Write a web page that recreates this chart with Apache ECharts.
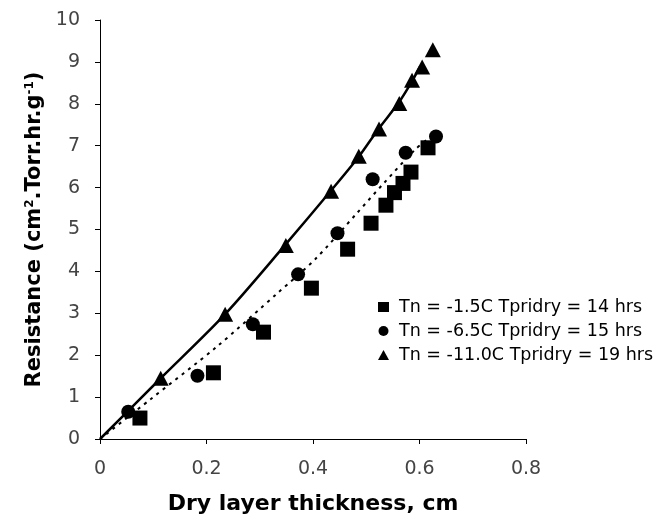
<!DOCTYPE html>
<html>
<head>
<meta charset="utf-8">
<script src="https://cdn.jsdelivr.net/npm/echarts@6/dist/echarts.min.js"></script>
<style>html,body{margin:0;padding:0;background:#fff;}#main{width:668px;height:520px;}</style>
</head>
<body>
<div id="main"></div>
<script>
// Series names
const seriesNames = ['Tn = -1.5C Tpridry = 14 hrs', 'Tn = -6.5C Tpridry = 15 hrs', 'Tn = -11.0C Tpridry = 19 hrs'];
// Squares (Tn = -1.5C)
const sqX = [0.075, 0.213, 0.307, 0.397, 0.465, 0.509, 0.537, 0.553, 0.569, 0.584, 0.616];
const sqY = [0.50, 1.58, 2.55, 3.60, 4.53, 5.15, 5.58, 5.88, 6.10, 6.37, 6.95];
// Circles (Tn = -6.5C)
const ciX = [0.053, 0.183, 0.287, 0.372, 0.446, 0.512, 0.574, 0.631];
const ciY = [0.65, 1.51, 2.74, 3.93, 4.91, 6.20, 6.83, 7.22];
// Triangles (Tn = -11.0C)
const trX = [0.114, 0.235, 0.349, 0.434, 0.486, 0.524, 0.562, 0.586, 0.605, 0.625];
const trY = [1.45, 2.98, 4.62, 5.91, 6.75, 7.40, 8.01, 8.56, 8.88, 9.29];
// Solid trend line
const solidX = [0, 0.114, 0.235, 0.349, 0.432, 0.4855, 0.523, 0.561, 0.586, 0.6015];
const solidY = [0, 1.45, 2.98, 4.65, 5.90, 6.73, 7.40, 8.03, 8.54, 8.90];
// Dotted trend line
const dotX = [0, 0.094, 0.219, 0.335, 0.404, 0.4825, 0.5326, 0.592, 0.620];
const dotY = [0, 0.94, 2.20, 3.50, 4.29, 5.39, 6.10, 6.91, 7.20];
// Axis ticks
const xTicks = [0, 0.2, 0.4, 0.6, 0.8];
const yTicks = [0, 1, 2, 3, 4, 5, 6, 7, 8, 9, 10];

const zip = (xs, ys) => xs.map((x, i) => [x, ys[i]]);

const chart = echarts.init(document.getElementById('main'), null, {renderer: 'canvas'});
const axisCommon = {
  axisLine: {show: true, lineStyle: {color: '#000', width: 1}},
  axisTick: {show: true, inside: false, length: 5, lineStyle: {color: '#000'}},
  splitLine: {show: false},
  axisLabel: {color: '#444', fontFamily: 'DejaVu Sans', fontSize: 19},
  nameTextStyle: {color: '#000', fontFamily: 'DejaVu Sans', fontWeight: 'bold', fontSize: 21}
};
chart.setOption({
  animation: false,
  backgroundColor: '#fff',
  grid: {left: 100, right: 142, top: 20, bottom: 77, containLabel: false},
  xAxis: Object.assign({}, axisCommon, {
    type: 'value', min: xTicks[0], max: xTicks[xTicks.length - 1], interval: 0.2,
    name: 'Dry layer thickness, cm', nameLocation: 'middle', nameGap: 54,
    axisLabel: Object.assign({}, axisCommon.axisLabel, {margin: 21, formatter: v => String(v)}),
    nameTextStyle: Object.assign({}, axisCommon.nameTextStyle, {fontSize: 22})
  }),
  yAxis: Object.assign({}, axisCommon, {
    type: 'value', min: yTicks[0], max: yTicks[yTicks.length - 1], interval: 1,
    name: 'Resistance (cm{sup|2}.Torr.hr.g{sup|-1})', nameLocation: 'middle', nameGap: 54, nameRotate: 90,
    axisLabel: Object.assign({}, axisCommon.axisLabel, {margin: 20}),
    nameTextStyle: Object.assign({}, axisCommon.nameTextStyle, {
      rich: {sup: {fontSize: 12, fontWeight: 'bold', fontFamily: 'DejaVu Sans', color: '#000', verticalAlign: 'top', padding: [0, 0, 10, 0]}}
    })
  }),
  legend: {
    orient: 'vertical', left: 373, top: 293, itemGap: 6, itemWidth: 11, itemHeight: 10,
    textStyle: {color: '#000', fontFamily: 'DejaVu Sans', fontSize: 17.5, padding: [0, 0, 0, 5]},
    data: [
      {name: seriesNames[0], icon: 'rect'},
      {name: seriesNames[1], icon: 'circle'},
      {name: seriesNames[2], icon: 'triangle'}
    ]
  },
  series: [
    {name: 'dotted', type: 'line', data: zip(dotX, dotY), showSymbol: false, smooth: 0.3,
     lineStyle: {color: '#000', width: 2, type: [3, 5]}, z: 1},
    {name: 'solid', type: 'line', data: zip(solidX, solidY), showSymbol: false, smooth: 0.3,
     lineStyle: {color: '#000', width: 2.5, type: 'solid'}, z: 1},
    {name: seriesNames[0], type: 'scatter', data: zip(sqX, sqY), symbol: 'rect', symbolSize: 15,
     itemStyle: {color: '#000', opacity: 1}, z: 3},
    {name: seriesNames[1], type: 'scatter', data: zip(ciX, ciY), symbol: 'circle', symbolSize: 14,
     itemStyle: {color: '#000', opacity: 1}, z: 3},
    {name: seriesNames[2], type: 'scatter', data: zip(trX, trY), symbol: 'triangle', symbolSize: [16, 15],
     itemStyle: {color: '#000', opacity: 1}, z: 3}
  ]
});
</script>
</body>
</html>
